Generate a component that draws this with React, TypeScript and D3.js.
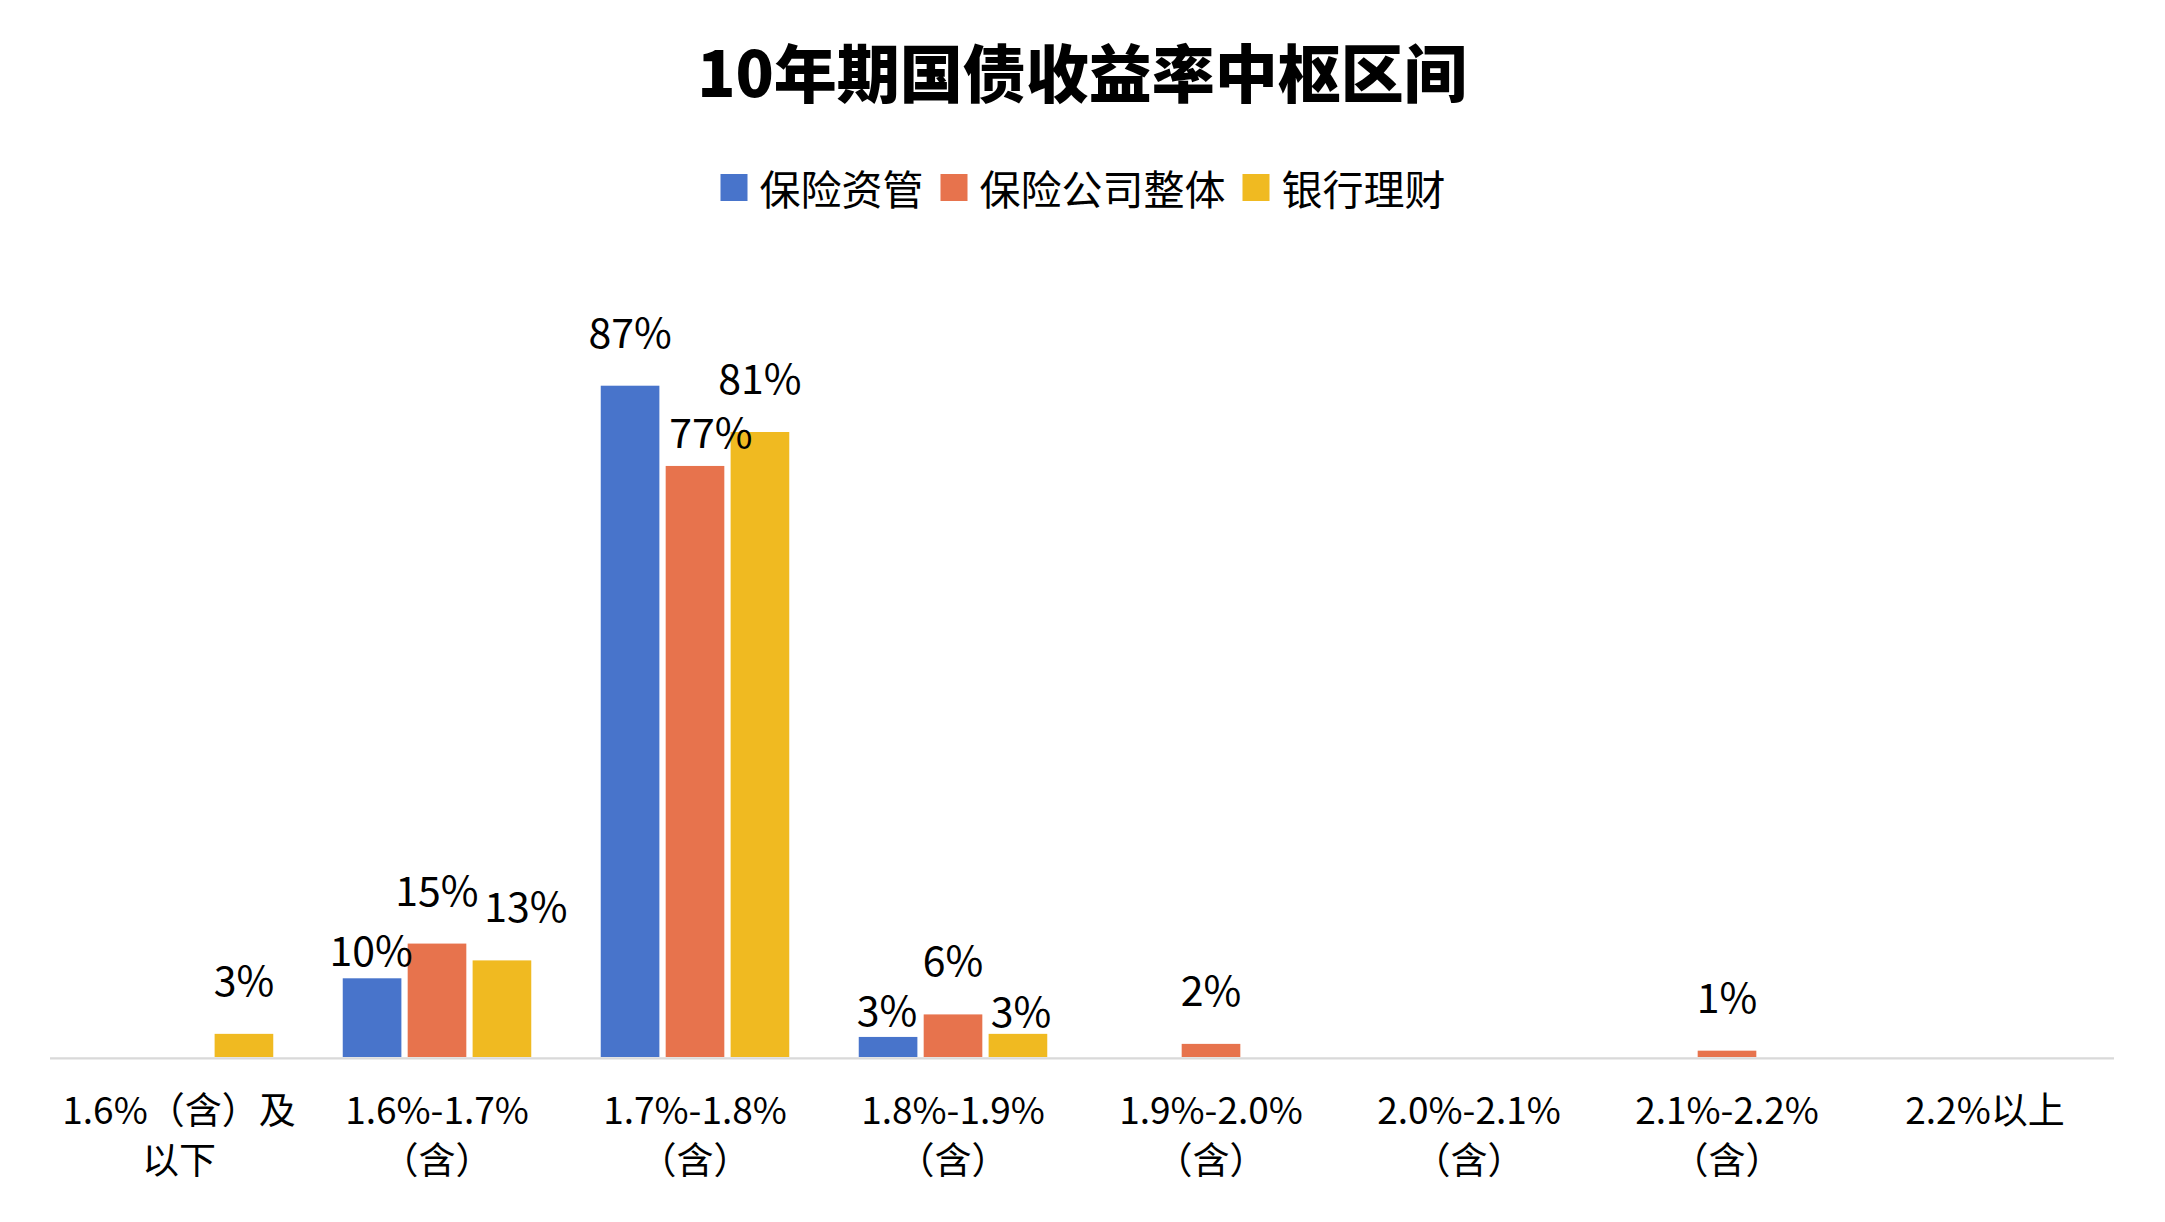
import * as d3 from 'd3';

const categories = [
  '1.6%（含）及\n以下',
  '1.6%-1.7%\n（含）',
  '1.7%-1.8%\n（含）',
  '1.8%-1.9%\n（含）',
  '1.9%-2.0%\n（含）',
  '2.0%-2.1%\n（含）',
  '2.1%-2.2%\n（含）',
  '2.2%以上',
];

const seriesNames = ['保险资管', '保险公司整体', '银行理财'];
const seriesColors = ['#4874CB', '#E7734D', '#F0BA21'];

// null = no answer in that bucket (no bar, no label)
const assetMgmt = [null, 0.102, 0.87, 0.026, null, null, null, null];
const insurers = [null, 0.147, 0.766, 0.0552, 0.017, null, 0.0082, null];
const bankWealth = [0.03, 0.1252, 0.81, 0.03, null, null, null, null];

const seriesValues = [assetMgmt, insurers, bankWealth];

// hand-moved data labels, as in the source chart: "series-category" -> [dx, dy]
const labelNudges: Record<string, [number, number]> = {
  '0-1': [-1, 26],
  '1-2': [16, 20],
  '2-1': [24, 0],
  '0-3': [-1, 27],
  '2-3': [3, 31],
};

const W = 2165;
const H = 1222;
const FONT = '"Noto Sans CJK SC", "Noto Sans", sans-serif';

export default function App() {
  const x0 = d3.scaleBand<number>()
    .domain(d3.range(categories.length))
    .range([50, 2114])
    .padding(0);

  const x1 = d3.scaleBand<number>()
    .domain(d3.range(seriesNames.length))
    .range([0, x0.bandwidth()])
    .paddingInner(0.097)
    .paddingOuter(0.535);

  const y = d3.scaleLinear().domain([0, 1]).range([1057, 285.4]);
  const fmt = d3.format('.0%');

  // legend layout
  const legendFont = 41;
  const swatch = 27;
  const gap = 17;
  const itemWidths = seriesNames.map(n => 39 + n.length * legendFont);
  const legendTotal = d3.sum(itemWidths) + gap * (seriesNames.length - 1);
  let lx = 1083 - legendTotal / 2;
  const legendItems = seriesNames.map((name, i) => {
    const item = { name, x: lx, color: seriesColors[i] };
    lx += itemWidths[i] + gap;
    return item;
  });

  return (
    <>
      <style>{'body{margin:0}'}</style>
      <svg width={W} height={H} style={{ display: 'block', background: '#fff', fontFamily: FONT }}>
        <rect width={W} height={H} fill="#fff" />

        <text x={1082} y={97} textAnchor="middle" fontSize={63} fontWeight={900} fill="#000">
          10年期国债收益率中枢区间
        </text>

        {legendItems.map(d => (
          <g key={d.name}>
            <rect x={d.x} y={174} width={swatch} height={swatch} fill={d.color} />
            <text x={d.x + 39} y={205} fontSize={legendFont} fill="#000">{d.name}</text>
          </g>
        ))}

        {seriesValues.map((vals, s) =>
          vals.map((v, c) =>
            v == null ? null : (
              <rect
                key={`b${s}-${c}`}
                x={(x0(c) ?? 0) + (x1(s) ?? 0)}
                y={y(v)}
                width={x1.bandwidth()}
                height={y(0) - y(v)}
                fill={seriesColors[s]}
              />
            )
          )
        )}

        <line x1={50} x2={2114} y1={1058.3} y2={1058.3} stroke="#D9D9D9" strokeWidth={2.2} />

        {seriesValues.map((vals, s) =>
          vals.map((v, c) => {
            if (v == null) return null;
            const [dx, dy] = labelNudges[`${s}-${c}`] ?? [0, 0];
            const cx = (x0(c) ?? 0) + (x1(s) ?? 0) + x1.bandwidth() / 2;
            return (
              <text
                key={`l${s}-${c}`}
                x={cx + dx}
                y={y(v) - 38 + dy}
                textAnchor="middle"
                fontSize={41}
                fill="#000"
              >
                {fmt(v)}
              </text>
            );
          })
        )}

        {categories.map((cat, c) => {
          const cx = (x0(c) ?? 0) + x0.bandwidth() / 2;
          return (
            <text key={`c${c}`} x={cx} y={1124} textAnchor="middle" fontSize={37} fill="#000">
              {cat.split('\n').map((line, i) => (
                <tspan key={i} x={cx} y={1124 + i * 50}>{line}</tspan>
              ))}
            </text>
          );
        })}
      </svg>
    </>
  );
}
